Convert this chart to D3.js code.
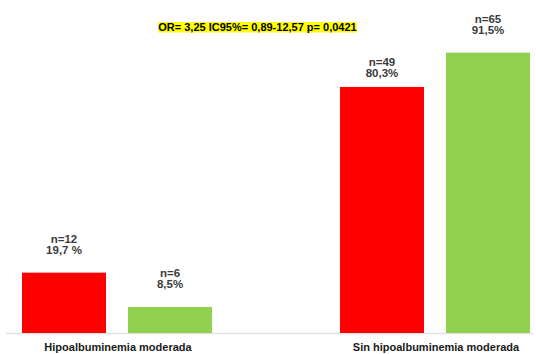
<!DOCTYPE html>
<html>
<head>
<meta charset="utf-8">
<script src="https://cdn.jsdelivr.net/npm/d3@7"></script>
<style>
  html, body { margin: 0; padding: 0; background: #fff; }
  svg { display: block; font-family: Arial, "Liberation Sans", sans-serif; }
</style>
</head>
<body>
<svg id="chart" width="536" height="354"></svg>
<script>
// Albumin status groups and the two compared series
const categories = ["Hipoalbuminemia moderada", "Sin hipoalbuminemia moderada"];
const seriesNames = ["casos", "controles"];
const percentA = [19.7, 80.3];   // red series (%)
const percentB = [8.5, 91.5];    // green series (%)
const countA = [12, 49];
const countB = [6, 65];
const pctLabelA = ["19,7 %", "80,3%"];
const pctLabelB = ["8,5%", "91,5%"];
const statsText = "OR= 3,25 IC95%= 0,89-12,57 p= 0,0421";

const colors = { casos: "#ff0000", controles: "#92d050" };
// distance between bar top and the lower label line, per bar
const labelGap = { casos: [19, 10], controles: [19, 19] };

const svg = d3.select("#chart");

const rows = [];
categories.forEach((c, i) => {
  rows.push({ cat: c, ci: i, s: "casos", v: percentA[i], n: countA[i], p: pctLabelA[i] });
  rows.push({ cat: c, ci: i, s: "controles", v: percentB[i], n: countB[i], p: pctLabelB[i] });
});

const x0 = d3.scaleBand().domain(categories).range([22, 530])
  .paddingInner(128 / 318).paddingOuter(0);
const x1 = d3.scaleBand().domain(seriesNames).range([0, x0.bandwidth()])
  .paddingInner(22 / 106).paddingOuter(0);
const y = d3.scaleLinear().domain([0, 100]).range([333, 26.6]);

// baseline
svg.append("line")
  .attr("x1", 6).attr("x2", 533)
  .attr("y1", y(0) + 0.5).attr("y2", y(0) + 0.5)
  .attr("stroke", "#e2e2e2").attr("stroke-width", 1.5);

// bars
svg.append("g").selectAll("rect").data(rows).join("rect")
  .attr("x", d => x0(d.cat) + x1(d.s))
  .attr("width", x1.bandwidth())
  .attr("y", d => y(d.v))
  .attr("height", d => y(0) - y(d.v))
  .attr("fill", d => colors[d.s]);

// value labels
const lab = svg.append("g")
  .attr("font-size", 11.5).attr("font-weight", "bold")
  .attr("fill", "#3b3b3b").attr("text-anchor", "middle");
rows.forEach(d => {
  const cx = x0(d.cat) + x1(d.s) + x1.bandwidth() / 2;
  const base = y(d.v) - labelGap[d.s][d.ci];
  lab.append("text").attr("x", cx).attr("y", base - 11).text("n=" + d.n);
  lab.append("text").attr("x", cx).attr("y", base).text(d.p);
});

// category labels
svg.append("g").selectAll("text").data(categories).join("text")
  .attr("x", d => x0(d) + x0.bandwidth() / 2 + 1)
  .attr("y", 351)
  .attr("text-anchor", "middle")
  .attr("font-size", 11).attr("font-weight", "bold")
  .attr("fill", "#1a1a1a")
  .text(d => d);

// statistics annotation on a yellow highlight
const stats = svg.append("g");
const hl = stats.append("rect").attr("fill", "#ffff00");
const st = stats.append("text")
  .attr("x", 257.5).attr("y", 31)
  .attr("text-anchor", "middle")
  .attr("font-size", 11).attr("font-weight", "bold")
  .attr("fill", "#000")
  .text(statsText);
const bb = st.node().getBBox();
hl.attr("x", bb.x).attr("width", bb.width).attr("y", 22).attr("height", 10.5);
</script>
</body>
</html>
